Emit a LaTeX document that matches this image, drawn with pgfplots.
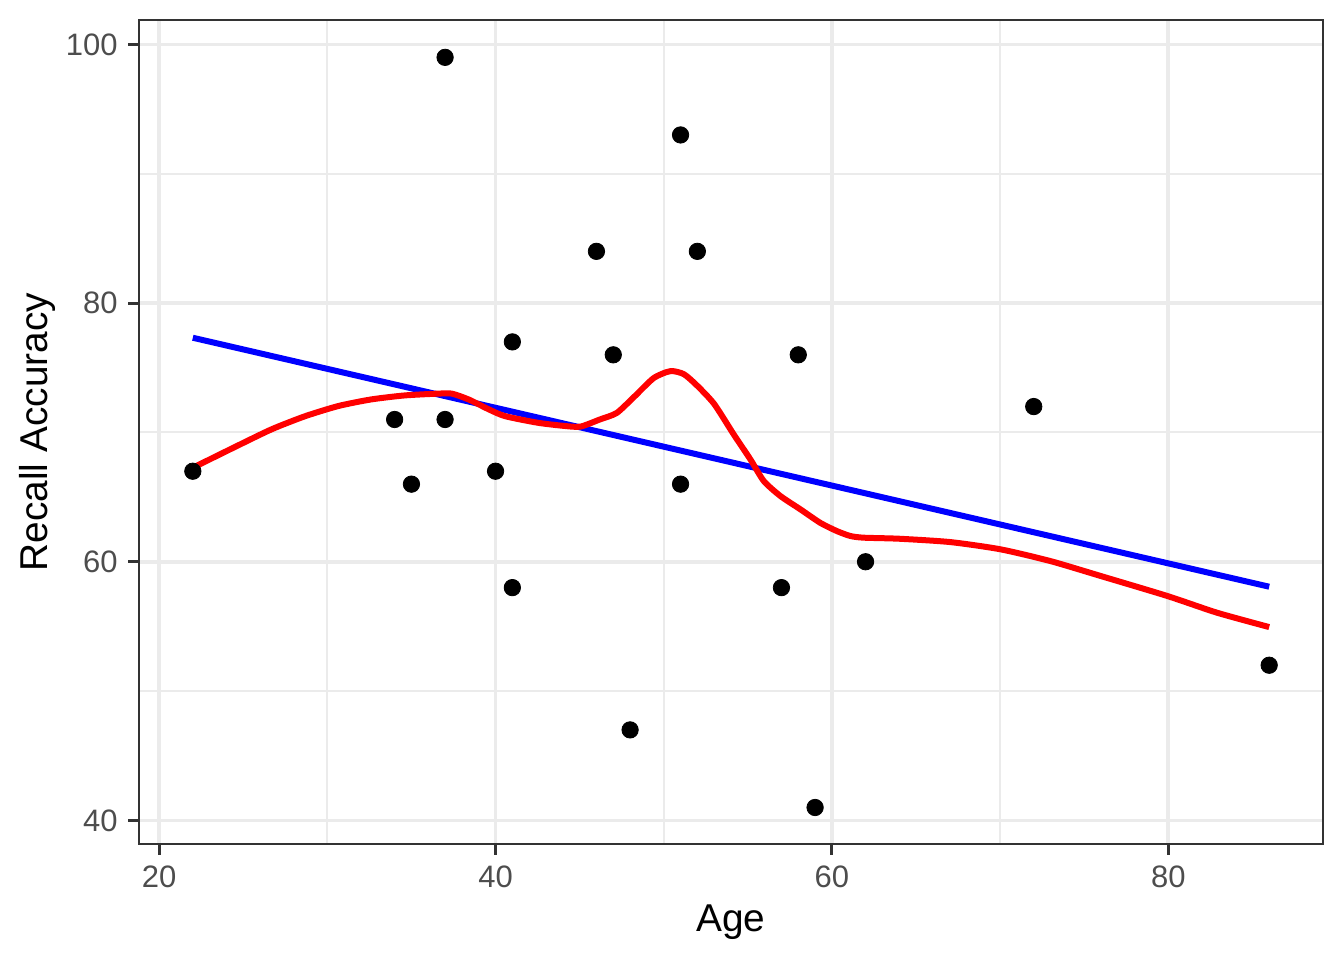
\documentclass[border=0pt]{standalone}
\usepackage{pgfplots}
\pgfplotsset{compat=1.18}
\usepackage{fontspec}
\setmainfont{Liberation Sans}
\definecolor{gray20}{HTML}{333333}
\definecolor{gray30}{HTML}{4D4D4D}
\definecolor{gray92}{HTML}{EBEBEB}
\begin{document}
\begin{tikzpicture}
\useasboundingbox (-69.5pt,-58.15pt) rectangle (602.5pt,421.85pt);
\begin{axis}[
  scale only axis,
  width=592pt, height=411.6pt,
  xmin=18.8, xmax=89.2, ymin=38.2, ymax=101.85,
  xtick={20,40,60,80}, ytick={40,60,80,100},
  minor x tick num=1, minor y tick num=1,
  minor tick length=0pt,
  major tick length=5.4pt,
  tick align=outside,
  xtick pos=bottom, ytick pos=left,
  grid=both,
  major grid style={gray92, line width=1.8pt},
  minor grid style={gray92, line width=1.0pt},
  axis line style={gray20, line width=1.0pt},
  major tick style={gray20, line width=1.5pt},
  /pgf/number format/assume math mode=true,
  ticklabel style={font=\fontsize{15.5}{18}\selectfont, text=gray30, inner sep=0pt},
  xticklabel style={anchor=north, yshift=-5.6pt},
  yticklabel style={anchor=east, xshift=-5.1pt},
  xlabel={Age}, ylabel={Recall Accuracy},
  label style={font=\fontsize{19.4}{22}\selectfont, text=black, inner sep=0pt},
  xlabel style={at={(axis description cs:0.5,0)}, anchor=base, yshift=-43.9pt},
  ylabel style={at={(axis description cs:0,0.5)}, anchor=base, yshift=45.5pt},
  clip=false,
]
\addplot[only marks, mark=*, mark size=4.1pt, black] coordinates {
(22,67) (34,71) (35,66) (37,99) (37,71) (40,67) (41,77) (41,58) (46,84) (47,76)
(48,47) (51,93) (51,66) (52,84) (57,58) (58,76) (59,41) (62,60) (72,72) (86,52)
};
\addplot[blue, line width=3pt] coordinates {(22,77.32) (86,58.07)};
\addplot[red, line width=3pt, smooth, tension=0.4, line join=round] coordinates {
(22,67.27) (24.7,69.0) (26.7,70.25) (28.67,71.25) (30.65,72.04) (32.6,72.55)
(34.6,72.86) (36.6,73.0) (37.4,73.0) (38.4,72.55) (39.57,71.8) (40.56,71.26)
(42.5,70.75) (44.1,70.5) (45.05,70.45) (46.2,71.0) (47.2,71.5) (48.2,72.7)
(49.4,74.2) (50.4,74.74) (51.2,74.5) (52.0,73.6) (53.0,72.2) (54.16,69.85)
(55.16,67.9) (55.95,66.24) (56.94,65.08) (58.13,64.05) (59.32,63.0) (60.3,62.37)
(61.1,61.99) (61.9,61.86) (64.0,61.78) (67.05,61.52) (70.03,60.96) (73.0,60.05)
(75.98,58.9) (79.95,57.35) (82.9,56.06) (86,54.95)
};
\end{axis}
\end{tikzpicture}
\end{document}
